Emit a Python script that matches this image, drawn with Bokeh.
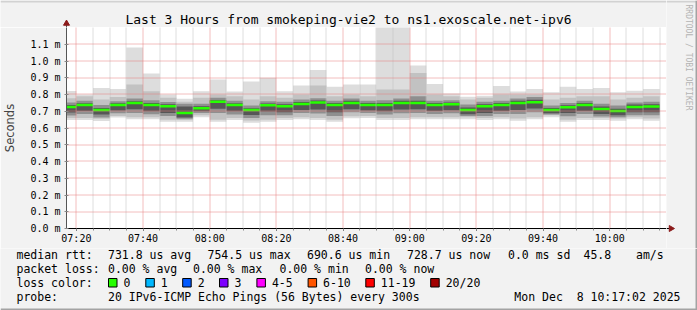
from datetime import datetime
from math import pi, floor
from bokeh.plotting import figure
from bokeh.layouts import column, row
from bokeh.core.properties import value
from bokeh.models import (FixedTicker, PrintfTickFormatter, DatetimeTickFormatter,
                          Range1d, ColumnDataSource)
from bokeh.embed import file_html
from bokeh.resources import INLINE

# ---------------- data ----------------
DAY = "2025-12-08"
START, END = "07:17:02", "10:17:02"
STEP_MIN = 5

bar_end = ["07:20", "07:25", "07:30", "07:35", "07:40", "07:45", "07:50", "07:55",
           "08:00", "08:05", "08:10", "08:15", "08:20", "08:25", "08:30", "08:35",
           "08:40", "08:45", "08:50", "08:55", "09:00", "09:05", "09:10", "09:15",
           "09:20", "09:25", "09:30", "09:35", "09:40", "09:45", "09:50", "09:55",
           "10:00", "10:05", "10:10", "10:15"]

# median rtt (ms)
median = [0.726, 0.738, 0.708, 0.738, 0.750, 0.738, 0.730, 0.690, 0.718, 0.756, 0.738, 0.708,
          0.736, 0.730, 0.744, 0.752, 0.738, 0.750, 0.738, 0.738, 0.750, 0.750, 0.738, 0.742,
          0.708, 0.730, 0.738, 0.750, 0.754, 0.708, 0.724, 0.738, 0.714, 0.702, 0.726, 0.729]

# smoke bands (ms): outermost -> innermost
lo1 = [0.648, 0.648, 0.642, 0.662, 0.652, 0.652, 0.638, 0.638, 0.664, 0.638, 0.648, 0.632,
       0.638, 0.648, 0.652, 0.648, 0.638, 0.658, 0.660, 0.648, 0.648, 0.652, 0.652, 0.652,
       0.652, 0.648, 0.652, 0.644, 0.652, 0.664, 0.638, 0.648, 0.648, 0.644, 0.652, 0.644]
hi1 = [0.821, 0.800, 0.839, 0.833, 1.080, 0.925, 0.800, 0.774, 0.820, 0.889, 0.818, 0.877,
       0.900, 0.820, 0.853, 0.947, 0.847, 0.860, 0.860, 1.300, 1.300, 0.973, 0.863, 0.806,
       0.786, 0.792, 0.851, 0.818, 0.833, 0.814, 0.847, 0.833, 0.839, 0.814, 0.823, 0.833]
lo2 = [0.660, 0.660, 0.655, 0.672, 0.664, 0.664, 0.650, 0.648, 0.676, 0.650, 0.660, 0.645,
       0.650, 0.660, 0.664, 0.660, 0.650, 0.670, 0.672, 0.660, 0.660, 0.664, 0.664, 0.664,
       0.664, 0.660, 0.664, 0.656, 0.664, 0.676, 0.650, 0.660, 0.660, 0.656, 0.664, 0.656]
hi2 = [0.778, 0.790, 0.770, 0.785, 0.860, 0.820, 0.780, 0.757, 0.780, 0.800, 0.790, 0.770,
       0.790, 0.780, 0.800, 0.853, 0.790, 0.800, 0.790, 0.830, 0.830, 0.929, 0.800, 0.790,
       0.770, 0.780, 0.800, 0.800, 0.800, 0.770, 0.780, 0.790, 0.790, 0.770, 0.780, 0.790]
lo3 = [0.675, 0.684, 0.662, 0.688, 0.690, 0.682, 0.672, 0.655, 0.690, 0.690, 0.680, 0.660,
       0.676, 0.676, 0.690, 0.686, 0.672, 0.694, 0.690, 0.680, 0.688, 0.690, 0.684, 0.688,
       0.672, 0.672, 0.684, 0.684, 0.694, 0.680, 0.670, 0.684, 0.668, 0.664, 0.676, 0.676]
hi3 = [0.752, 0.762, 0.738, 0.760, 0.776, 0.765, 0.755, 0.745, 0.745, 0.780, 0.762, 0.735,
       0.760, 0.756, 0.770, 0.778, 0.762, 0.776, 0.762, 0.765, 0.776, 0.790, 0.762, 0.765,
       0.740, 0.756, 0.762, 0.776, 0.785, 0.735, 0.750, 0.762, 0.745, 0.735, 0.752, 0.756]
lo4 = [0.692, 0.702, 0.680, 0.705, 0.712, 0.700, 0.690, 0.662, 0.700, 0.715, 0.700, 0.678,
       0.698, 0.694, 0.708, 0.710, 0.694, 0.712, 0.705, 0.700, 0.710, 0.712, 0.702, 0.706,
       0.682, 0.690, 0.702, 0.708, 0.716, 0.688, 0.690, 0.702, 0.684, 0.676, 0.694, 0.694]
hi4 = [0.738, 0.748, 0.720, 0.748, 0.760, 0.750, 0.742, 0.728, 0.730, 0.766, 0.748, 0.718,
       0.746, 0.742, 0.755, 0.764, 0.750, 0.762, 0.750, 0.750, 0.762, 0.762, 0.750, 0.752,
       0.722, 0.742, 0.750, 0.762, 0.768, 0.720, 0.736, 0.750, 0.728, 0.715, 0.740, 0.742]
band_colors = ["#dddddd", "#c2c2c2", "#8f8f8f", "#565656"]

y_ticks = [0.0, 0.1, 0.2, 0.3, 0.4, 0.5, 0.6, 0.7, 0.8, 0.9, 1.0, 1.1]
x_major = ["07:20", "07:40", "08:00", "08:20", "08:40", "09:00", "09:20", "09:40", "10:00"]

title = "Last 3 Hours from smokeping-vie2 to ns1.exoscale.net-ipv6"
credit = "RRDTOOL / TOBI OETIKER"
row_rtt = ["median rtt:", "731.8 us avg", "754.5 us max", "690.6 us min",
           "728.7 us now", "0.0 ms sd", "45.8", "am/s"]
row_loss = ["packet loss:", "0.00 % avg", "0.00 % max", "0.00 % min", "0.00 % now"]
loss_head = "loss color:"
loss_labels = ["0", "1", "2", "3", "4-5", "6-10", "11-19", "20/20"]
loss_colors = ["#26ff00", "#00b8ff", "#0059ff", "#7e00ff", "#ff00ff", "#ff5500", "#ff0000", "#a10000"]
probe_head = "probe:"
probe_text = "20 IPv6-ICMP Echo Pings (56 Bytes) every 300s"
stamp_text = "Mon Dec \u00a08 10:17:02 2025"

# ---------------- layout (canvas pixels) ----------------
W, H = 697, 310
PX_L, PX_R = 66, 666        # graph canvas left/right
PX_T, PX_B = 27, 228        # graph canvas top/bottom
SPLIT = 248                 # legend panel starts here
rtt_px = [16, 107.5, 207, 306.5, 406.5, 507.5, 583, 635.5]
loss_px = [16, 107.5, 192.5, 279, 364.5]
box_px = [108, 145.3, 182.2, 219, 256.4, 307.6, 365.3, 430.2]
ROWS = [254, 268, 282, 296]
BG = "#f2f2f2"
EDGE_LIGHT, EDGE_DARK = "#d2d2d2", "#a3a3a3"
HEAD = "#8b1a1a"
MONO = "DejaVu Sans Mono"
Y_MAX = 1.2

EPOCH = datetime(1970, 1, 1)


def ms(hhmmss):
    fmt = "%Y-%m-%d %H:%M:%S" if hhmmss.count(":") == 2 else "%Y-%m-%d %H:%M"
    return (datetime.strptime(DAY + " " + hhmmss, fmt) - EPOCH).total_seconds() * 1000.0


x0, x1 = ms(START), ms(END)
MS_PER_PX = (x1 - x0) / (PX_R - PX_L)
V_PER_PX = Y_MAX / (PX_B - PX_T)


def crisp_x(t):   # snap a grid time onto a pixel centre (rrdtool draws crisp grid lines)
    px = (t - x0) / MS_PER_PX
    return x0 + (floor(px) + 0.5) * MS_PER_PX


def crisp_y(v):
    px = v / V_PER_PX
    return (floor(px) + 0.5) * V_PER_PX


def strip(w, h, xr, yr):
    f = figure(width=w, height=h, output_backend="svg", toolbar_location=None, title=None,
               x_range=Range1d(*xr), y_range=Range1d(*yr),
               x_axis_location=None, y_axis_location=None,
               min_border_left=0, min_border_right=0, min_border_top=0, min_border_bottom=0)
    f.frame_align = False
    f.grid.visible = False
    f.outline_line_color = None
    f.background_fill_color = BG
    f.border_fill_color = BG
    return f


# ---------------- main graph ----------------
rights = [ms(t) for t in bar_end]
lefts = [r - STEP_MIN * 60000 for r in rights]
src = ColumnDataSource(dict(left=lefts, right=rights, med=median,
                            lo1=lo1, hi1=hi1, lo2=lo2, hi2=hi2,
                            lo3=lo3, hi3=hi3, lo4=lo4, hi4=hi4))

p = figure(width=PX_R, height=SPLIT - PX_T, x_axis_type="datetime", output_backend="svg",
           toolbar_location=None, title=None,
           x_range=Range1d(x0, x1), y_range=Range1d(0, Y_MAX),
           min_border_left=PX_L, min_border_right=0, min_border_top=0,
           min_border_bottom=SPLIT - PX_B)
p.frame_align = False
p.border_fill_color = BG
p.background_fill_color = "#ffffff"
p.outline_line_color = None
p.xgrid.visible = False
p.ygrid.visible = False

for i, c in enumerate(band_colors, start=1):
    p.quad(left="left", right="right", bottom=f"lo{i}", top=f"hi{i}", source=src,
           fill_color=c, line_color=None)
p.segment(x0="left", x1="right", y0="med", y1="med", source=src,
          line_color="#26ff00", line_width=2.5)

# dotted grid lines drawn over the smoke, rrdtool style
minor_x = [crisp_x(ms(t)) for t in bar_end if t not in x_major]
major_x = [crisp_x(ms(t)) for t in x_major]
p.segment(x0=minor_x, x1=minor_x, y0=[0] * len(minor_x), y1=[Y_MAX] * len(minor_x),
          line_color="#bdbdbd", line_width=1, line_dash="1 1")
p.segment(x0=major_x, x1=major_x, y0=[0] * len(major_x), y1=[Y_MAX] * len(major_x),
          line_color="#e77c7c", line_width=1, line_dash="1 1")
hy = [crisp_y(v) for v in y_ticks[1:]]
p.segment(x0=[x0] * len(hy), x1=[x1] * len(hy), y0=hy, y1=hy,
          line_color="#e77c7c", line_width=1, line_dash="1 1")

p.xaxis.ticker = FixedTicker(ticks=[ms(t) for t in x_major],
                             minor_ticks=[ms(t) for t in bar_end])
fmt = "%H:%M"
p.xaxis.formatter = DatetimeTickFormatter(seconds=fmt, minsec=fmt, minutes=fmt,
                                          hourmin=fmt, hours=fmt)
p.yaxis.ticker = FixedTicker(ticks=y_ticks)
p.yaxis.formatter = PrintfTickFormatter(format="%.1f m")
for ax in (p.xaxis[0], p.yaxis[0]):
    ax.major_label_text_font = MONO
    ax.major_label_text_font_size = "10px"
    ax.major_label_text_color = "#000000"
p.xaxis.axis_line_color = "#000000"
p.xaxis.major_tick_line_color = "#000000"
p.xaxis.major_tick_out = 2
p.xaxis.major_tick_in = 0
p.xaxis.minor_tick_line_color = "#888888"
p.xaxis.minor_tick_out = 2
p.xaxis.minor_tick_in = 0
p.xaxis.major_label_standoff = 2
p.yaxis.axis_line_color = "#555555"
p.yaxis.major_tick_line_color = "#888888"
p.yaxis.major_tick_out = 2
p.yaxis.major_tick_in = 2
p.yaxis.minor_tick_line_color = None
p.yaxis.major_label_standoff = 4
p.yaxis.axis_label = "Seconds"
p.yaxis.axis_label_text_font = "DejaVu Sans"
p.yaxis.axis_label_text_font_style = "normal"
p.yaxis.axis_label_text_font_size = "11.5px"
p.yaxis.axis_label_standoff = 10

# ---------------- top strip: title + y-axis arrow ----------------
top = strip(PX_R, PX_T, (0, PX_R), (-PX_T, 0))
top.text(x=[348], y=[-19], text=[title], text_font=value(MONO),
         text_font_size=value("13px"), text_align="center", text_baseline="middle",
         text_color="#000000")
top.segment(x0=[PX_L], x1=[PX_L], y0=[-22], y1=[-PX_T], line_color="#555555", line_width=1)
top.scatter(x=[PX_L], y=[-23], marker="triangle", size=6, fill_color=HEAD, line_color=HEAD)
top.quad(left=[0], right=[PX_R], bottom=[-2], top=[0], fill_color=EDGE_LIGHT, line_color=None)

# ---------------- right strip: credit + x-axis arrow ----------------
side = strip(W - PX_R, SPLIT, (PX_R, W), (-SPLIT, 0))
side.text(x=[688], y=[-4], text=[credit], text_font=value(MONO),
          text_font_size=value("8px"), text_align="left", text_baseline="middle",
          angle=-pi / 2, text_color="#b4b4b4")
side.segment(x0=[PX_R], x1=[669], y0=[-PX_B], y1=[-PX_B], line_color="#000000", line_width=1)
side.scatter(x=[670.5], y=[-PX_B], marker="triangle", angle=-pi / 2, size=6,
             fill_color=HEAD, line_color=HEAD)
side.quad(left=[PX_R], right=[W], bottom=[-2], top=[0], fill_color=EDGE_LIGHT, line_color=None)
side.quad(left=[W - 2], right=[W], bottom=[-SPLIT], top=[0], fill_color=EDGE_DARK, line_color=None)

# ---------------- legend panel ----------------
q = strip(W, H - SPLIT, (0, W), (H, SPLIT))
tx, ty, tt, ta = [], [], [], []
for s, x in zip(row_rtt, rtt_px):
    tx.append(x); ty.append(ROWS[0]); tt.append(s); ta.append("left")
for s, x in zip(row_loss, loss_px):
    tx.append(x); ty.append(ROWS[1]); tt.append(s); ta.append("left")
tx.append(16); ty.append(ROWS[2]); tt.append(loss_head); ta.append("left")
for s, x in zip(loss_labels, box_px):
    tx.append(x + 15); ty.append(ROWS[2]); tt.append(s); ta.append("left")
tx += [16, 107.5, 680]; ty += [ROWS[3]] * 3; tt += [probe_head, probe_text, stamp_text]
ta += ["left", "left", "right"]
q.text(x="x", y="y", text="t", text_align="a",
       source=ColumnDataSource(dict(x=tx, y=ty, t=tt, a=ta)),
       text_font=value(MONO), text_font_size=value("11.5px"),
       text_baseline="middle", text_color="#000000")
q.quad(left=box_px, right=[b + 8.5 for b in box_px],
       top=[ROWS[2] - 4] * len(box_px), bottom=[ROWS[2] + 4.5] * len(box_px),
       fill_color=loss_colors, line_color="#000000", line_width=1)
q.quad(left=[W - 2], right=[W], top=[SPLIT], bottom=[H], fill_color=EDGE_DARK, line_color=None)
q.quad(left=[0], right=[W], top=[H - 2], bottom=[H], fill_color=EDGE_DARK, line_color=None)

layout = column(row(column(top, p, spacing=0), side, spacing=0), q, spacing=0)
open("out.html", "w").write(file_html(layout, INLINE))
